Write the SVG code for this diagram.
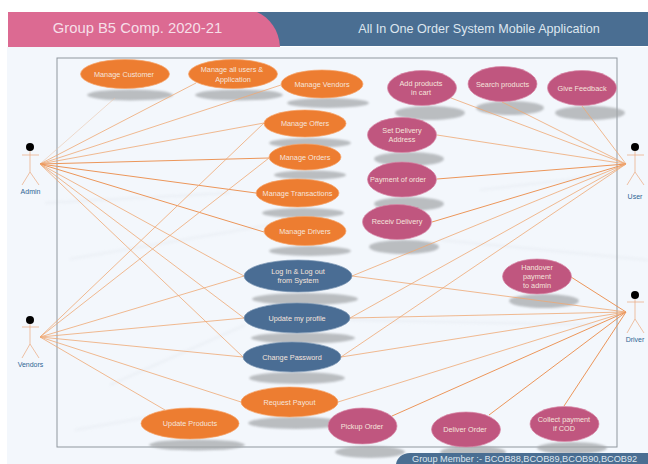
<svg xmlns="http://www.w3.org/2000/svg" width="648" height="464" viewBox="0 0 648 464">
<style>
.o{fill:#ed7d31;stroke:#f6a468;stroke-width:.7}
.p{fill:#c0567f;stroke:#d98aa8;stroke-width:.7}
.b{fill:#4a6d94;stroke:#7f9ab6;stroke-width:.7}
.s{fill:#a2a5a8;opacity:.7;filter:url(#blur)}
text{font-family:"Liberation Sans",Arial,sans-serif}
.t{fill:#f5e4dc;font-size:7.300px;text-anchor:middle}
.a{fill:#2f6694;font-size:7px;text-anchor:middle}
.c line{stroke:#efa873;stroke-width:.8}
.c line.f{stroke:#e9c4aa;stroke-width:.6}
.c line.h{stroke:#ec965a;stroke-width:1}
.fig{stroke:#eba77c;stroke-width:.7;fill:none}
.st{stroke:#e4e9ef;stroke-width:2;opacity:.6;filter:url(#blur2)}
</style>
<defs>
<filter id="blur" x="-20%" y="-60%" width="140%" height="220%"><feGaussianBlur stdDeviation="1.2"/></filter>
<filter id="blur2" x="-10%" y="-200%" width="120%" height="500%"><feGaussianBlur stdDeviation="1.5"/></filter>
</defs>
<rect width="648" height="464" fill="#fff"/>
<rect x="7" y="47" width="641" height="417" fill="#f3f7fc"/>
<g id="background-streaks">
<line class="st" x1="45" y1="203" x2="230" y2="193"/>
<line class="st" x1="70" y1="259" x2="270" y2="225"/>
<line class="st" x1="110" y1="385" x2="245" y2="325"/>
<line class="st" x1="75" y1="430" x2="160" y2="415"/>
<line class="st" x1="480" y1="190" x2="610" y2="175"/>
<line class="st" x1="350" y1="320" x2="600" y2="325"/>
<line class="st" x1="440" y1="240" x2="648" y2="260"/>
</g>
<g id="header">
<rect x="250" y="12" width="398" height="34" fill="#4a6e92"/>
<path d="M8 12H257C270 18 279 30 280 47H8Z" fill="#dc6a92"/>
<text x="137.500" y="33" font-size="14.800" fill="#f6dfe8" text-anchor="middle">Group B5 Comp. 2020-21</text>
<text x="479" y="33" font-size="12.600" fill="#dde6ef" text-anchor="middle">All In One Order System Mobile Application</text>
</g>
<rect id="frame" x="57" y="58" width="560" height="389" fill="none" stroke="#8f979e" stroke-width="1"/>
<g id="shadows">
<ellipse class="s" cx="130" cy="95" rx="43" ry="5.500"/>
<ellipse class="s" cx="239" cy="95" rx="44" ry="5.500"/>
<ellipse class="s" cx="328" cy="103" rx="41" ry="5"/>
<ellipse class="s" cx="310" cy="143" rx="41" ry="5"/>
<ellipse class="s" cx="310" cy="175" rx="36" ry="4.500"/>
<ellipse class="s" cx="303" cy="213" rx="41" ry="5"/>
<ellipse class="s" cx="310" cy="251" rx="41" ry="5"/>
<ellipse class="s" cx="305" cy="299" rx="53" ry="6"/>
<ellipse class="s" cx="303" cy="338" rx="52" ry="5.500"/>
<ellipse class="s" cx="297" cy="378" rx="48" ry="6"/>
<ellipse class="s" cx="296" cy="423" rx="48" ry="6"/>
<ellipse class="s" cx="197" cy="445" rx="48" ry="5.500"/>
<ellipse class="s" cx="430" cy="113" rx="35" ry="7"/>
<ellipse class="s" cx="510" cy="108" rx="34" ry="7"/>
<ellipse class="s" cx="590" cy="113" rx="35" ry="7"/>
<ellipse class="s" cx="409" cy="159" rx="35" ry="7"/>
<ellipse class="s" cx="409" cy="204" rx="35" ry="7"/>
<ellipse class="s" cx="404" cy="247" rx="35" ry="7"/>
<ellipse class="s" cx="544" cy="301" rx="35" ry="7"/>
<ellipse class="s" cx="370" cy="452" rx="35" ry="6"/>
<ellipse class="s" cx="473" cy="452" rx="33" ry="6"/>
<ellipse class="s" cx="572" cy="448" rx="35" ry="6"/>
</g>
<g id="connectors" class="c">
<line class="f" x1="40" y1="164" x2="115" y2="98"/>
<line x1="40" y1="164" x2="196" y2="83"/>
<line x1="40" y1="164" x2="281" y2="85"/>
<line x1="40" y1="164" x2="264" y2="123"/>
<line class="h" x1="40" y1="164" x2="269" y2="158"/>
<line class="h" x1="40" y1="164" x2="256" y2="193"/>
<line class="h" x1="40" y1="164" x2="264" y2="232"/>
<line x1="40" y1="164" x2="244" y2="276"/>
<line x1="40" y1="164" x2="244" y2="318"/>
<line x1="40" y1="164" x2="243" y2="357"/>
<line x1="40" y1="337" x2="264" y2="123"/>
<line x1="40" y1="337" x2="269" y2="158"/>
<line x1="40" y1="337" x2="244" y2="276"/>
<line x1="40" y1="337" x2="244" y2="318"/>
<line x1="40" y1="337" x2="243" y2="357"/>
<line x1="40" y1="337" x2="241" y2="402"/>
<line x1="40" y1="337" x2="165" y2="410"/>
<line x1="626" y1="164" x2="451" y2="98"/>
<line x1="626" y1="164" x2="502" y2="102"/>
<line x1="626" y1="164" x2="582" y2="106"/>
<line x1="626" y1="164" x2="437" y2="135"/>
<line class="h" x1="626" y1="164" x2="437" y2="179"/>
<line class="h" x1="626" y1="164" x2="432" y2="222"/>
<line x1="626" y1="164" x2="352" y2="276"/>
<line x1="626" y1="164" x2="350" y2="318"/>
<line x1="626" y1="164" x2="341" y2="357"/>
<line class="h" x1="626" y1="312" x2="571" y2="277"/>
<line x1="626" y1="312" x2="352" y2="276"/>
<line x1="626" y1="312" x2="350" y2="318"/>
<line x1="626" y1="312" x2="341" y2="357"/>
<line x1="626" y1="312" x2="338" y2="402"/>
<line class="h" x1="626" y1="312" x2="392" y2="416"/>
<line class="h" x1="626" y1="312" x2="489" y2="415"/>
<line class="h" x1="626" y1="312" x2="564" y2="406"/>
</g>
<g id="manage-customer"><ellipse class="o" cx="125" cy="74" rx="44.500" ry="14.500"/><text class="t" x="124" y="77">Manage Customer</text></g>
<g id="manage-all-users"><ellipse class="o" cx="233" cy="74" rx="44.500" ry="14.500"/><text class="t" x="232" y="72">Manage all users &amp;</text><text class="t" x="233" y="82">Application</text></g>
<g id="manage-vendors"><ellipse class="o" cx="322" cy="84" rx="41" ry="14"/><text class="t" x="322" y="87">Manage Vendors</text></g>
<g id="manage-offers"><ellipse class="o" cx="305" cy="123.500" rx="41" ry="13.500"/><text class="t" x="305" y="126">Manage Offers</text></g>
<g id="manage-orders"><ellipse class="o" cx="305" cy="157" rx="36" ry="13"/><text class="t" x="305" y="160">Manage Orders</text></g>
<g id="manage-transactions"><ellipse class="o" cx="297.500" cy="193" rx="41.500" ry="14"/><text class="t" x="297.500" y="196">Manage Transactions</text></g>
<g id="manage-drivers"><ellipse class="o" cx="305" cy="231" rx="41" ry="14.500"/><text class="t" x="305" y="234">Manage Drivers</text></g>
<g id="log-in-out"><ellipse class="b" cx="298" cy="276" rx="54" ry="16"/><text class="t" x="298" y="274">Log In &amp; Log out</text><text class="t" x="298" y="283">from System</text></g>
<g id="update-profile"><ellipse class="b" cx="297" cy="318" rx="53" ry="15"/><text class="t" x="297" y="321">Update my profile</text></g>
<g id="change-password"><ellipse class="b" cx="292" cy="357" rx="49" ry="15"/><text class="t" x="292" y="360">Change Password</text></g>
<g id="request-payout"><ellipse class="o" cx="289.500" cy="402" rx="48.500" ry="15"/><text class="t" x="289.500" y="405">Request Payout</text></g>
<g id="update-products"><ellipse class="o" cx="190" cy="423.500" rx="49" ry="15.500"/><text class="t" x="190" y="426">Update Products</text></g>
<g id="add-products"><ellipse class="p" cx="422" cy="88" rx="34.500" ry="17.500"/><text class="t" x="421" y="86">Add products</text><text class="t" x="421" y="95">in cart</text></g>
<g id="search-products"><ellipse class="p" cx="502.500" cy="84" rx="34.500" ry="17.500"/><text class="t" x="502.500" y="87">Search products</text></g>
<g id="give-feedback"><ellipse class="p" cx="582" cy="88" rx="34.500" ry="17.500"/><text class="t" x="582" y="91">Give Feedback</text></g>
<g id="set-delivery"><ellipse class="p" cx="402" cy="135" rx="34.500" ry="17.500"/><text class="t" x="402" y="133">Set Delivery</text><text class="t" x="402" y="142">Address</text></g>
<g id="payment"><ellipse class="p" cx="402" cy="179.500" rx="34.500" ry="17.500"/><text class="t" x="398" y="182">Payment of order</text></g>
<g id="receiv-delivery"><ellipse class="p" cx="397" cy="222" rx="34.500" ry="17.500"/><text class="t" x="397" y="224">Receiv Delivery</text></g>
<g id="handover"><ellipse class="p" cx="537" cy="276.500" rx="34.500" ry="17.500"/><text class="t" x="537" y="270">Handover</text><text class="t" x="537" y="279">payment</text><text class="t" x="537" y="288">to admin</text></g>
<g id="pickup-order"><ellipse class="p" cx="362.500" cy="426" rx="34.500" ry="18"/><text class="t" x="362" y="429">Pickup Order</text></g>
<g id="deliver-order"><ellipse class="p" cx="466" cy="429.500" rx="34.500" ry="17.500"/><text class="t" x="465" y="432">Deliver Order</text></g>
<g id="collect-payment"><ellipse class="p" cx="564.500" cy="424" rx="34.500" ry="17.500"/><text class="t" x="564" y="422">Collect payment</text><text class="t" x="564" y="431">if COD</text></g>
<g id="admin"><circle cx="30" cy="147" r="4"/><path class="fig" d="M22 155H39M30 151V172L22 185M30 172L39 185"/><text class="a" x="30.500" y="194">Admin</text></g>
<g id="vendors"><circle cx="30" cy="320" r="4"/><path class="fig" d="M22 327H39M30 324V344L22 358M30 344L39 358"/><text class="a" x="30.500" y="367">Vendors</text></g>
<g id="user"><circle cx="635" cy="147" r="4"/><path class="fig" d="M627 155H644M635 151V172L627 185M635 172L644 185"/><text class="a" x="635" y="199">User</text></g>
<g id="driver"><circle cx="635" cy="295" r="4"/><path class="fig" d="M627 302H644M635 299V319L627 333M635 319L644 333"/><text class="a" x="635" y="342">Driver</text></g>
<g id="footer"><path d="M396 464C397 458 402 453 410 453H648V464Z" fill="#4a6e92"/><text x="412" y="462" font-size="9.200" fill="#dde6ef">Group Member :- BCOB88,BCOB89,BCOB90,BCOB92</text></g>
</svg>
